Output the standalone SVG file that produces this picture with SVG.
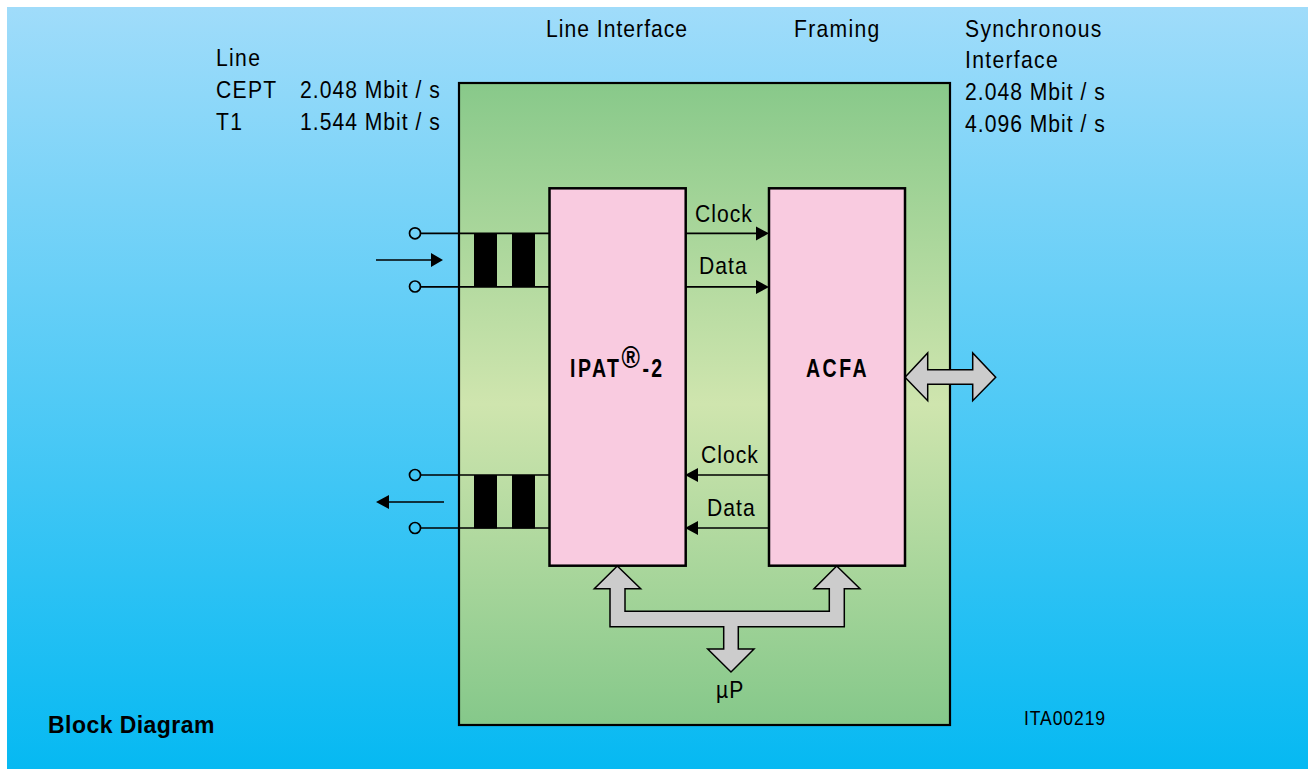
<svg xmlns="http://www.w3.org/2000/svg" width="1308" height="769" viewBox="0 0 1308 769">
<defs>
<linearGradient id="bg" x1="0" y1="0" x2="0" y2="1"><stop offset="0" stop-color="#a0dcfa"/><stop offset="1" stop-color="#06b9f2"/></linearGradient>
<linearGradient id="gr" x1="0" y1="0" x2="0" y2="1"><stop offset="0" stop-color="#88c98a"/><stop offset="0.5" stop-color="#cfe5ae"/><stop offset="1" stop-color="#85c88a"/></linearGradient>
</defs>
<style>
text{font-family:"Liberation Sans",Arial,sans-serif;font-size:24px;fill:#000}
.n{letter-spacing:1.15px}
.w{letter-spacing:1.5px}
.b{font-weight:bold;font-size:25px;letter-spacing:3.2px}
.pink{fill:#f9cbe0;stroke:#000;stroke-width:2.5}
.bus{fill:#cccccc;stroke:#000;stroke-width:1.5;stroke-linejoin:miter}
.l{stroke:#000;stroke-width:1.7;fill:none}
.t{fill:#000}
</style>
<rect x="7" y="7" width="1301" height="762" fill="url(#bg)"/>
<g id="chip"><rect x="459" y="83" width="491" height="642" fill="url(#gr)" stroke="#000" stroke-width="2.2"/></g>
<g id="connectors">
<path class="l" d="M421 233.300H549M421 286.800H549M421 475H549M421 528H549"/>
<circle class="l" cx="415" cy="233.300" r="5.500"/><circle class="l" cx="415" cy="286.500" r="5.500"/><circle class="l" cx="415" cy="475" r="5.500"/><circle class="l" cx="415" cy="528" r="5.500"/>
<path class="l" d="M376 260H432M386 502H444"/>
<path class="t" d="M431 253L443 260L431 267ZM389 495L376 502L389 509Z"/>
<path class="l" d="M686 233.300H757M686 286.800H757M697 475H769M697 528H769"/>
<path class="t" d="M756 226.500L769 233.300L756 240.500ZM756 280L769 287L756 294ZM698 468L685 475L698 482ZM698 521L685 528L698 535Z"/>
<path class="bus" d="M617.300 566L640.700 588.700H625V611.300H829.300V588.700H814L836.700 566L860 588.700H844.300V626.700H738.300V649H754L731 672L707.700 649H723.700V626.700H610V588.700H594.300Z"/>
<path class="bus" d="M905 377.300L927.700 353V369.700H972.700V353L995.700 377.300L972.700 400.700V384.300H927.700V400.700Z"/>
</g>
<g id="transformers"><rect x="474" y="233" width="23" height="54"/><rect x="512" y="233" width="23" height="54"/><rect x="474" y="475" width="23" height="53.500"/><rect x="512" y="475" width="23" height="53.500"/></g>
<g id="ipat"><rect class="pink" x="549.500" y="188.300" width="136.200" height="377.400"/><text class="b" transform="translate(570 376.500) scale(.78 1)">IPAT<tspan font-size="32" dy="-8.500">®</tspan><tspan dy="8.500">-2</tspan></text></g>
<g id="acfa"><rect class="pink" x="769" y="188.300" width="136" height="377.400"/><text class="b" transform="translate(806 376.500) scale(.78 1)">ACFA</text></g>
<g id="labels">
<text class="n" transform="translate(546 37) scale(.88 1)">Line Interface</text>
<text class="w" transform="translate(794 37) scale(.88 1)">Framing</text>
<text class="w" transform="translate(965 37) scale(.88 1)">Synchronous</text>
<text class="w" transform="translate(965 68) scale(.88 1)">Interface</text>
<text class="n" transform="translate(965 100) scale(.88 1)">2.048 Mbit / s</text>
<text class="n" transform="translate(965 132) scale(.88 1)">4.096 Mbit / s</text>
<text class="w" transform="translate(216 66) scale(.88 1)">Line</text>
<text class="w" transform="translate(216 98) scale(.88 1)">CEPT</text>
<text class="n" transform="translate(300 98) scale(.88 1)">2.048 Mbit / s</text>
<text class="w" transform="translate(216 130) scale(.88 1)">T1</text>
<text class="n" transform="translate(300 130) scale(.88 1)">1.544 Mbit / s</text>
<text class="n" transform="translate(695 222) scale(.88 1)">Clock</text>
<text class="n" transform="translate(699 274) scale(.88 1)">Data</text>
<text class="n" transform="translate(701 463) scale(.88 1)">Clock</text>
<text class="n" transform="translate(707 516) scale(.88 1)">Data</text>
<text class="n" transform="translate(716 698) scale(.88 1)">µP</text>
<text transform="translate(1024 725) scale(.88 1)" style="font-size:20px;letter-spacing:1px">ITA00219</text>
<text x="48" y="733" style="font-weight:bold;font-size:23px;letter-spacing:.45px">Block Diagram</text>
</g>
</svg>
